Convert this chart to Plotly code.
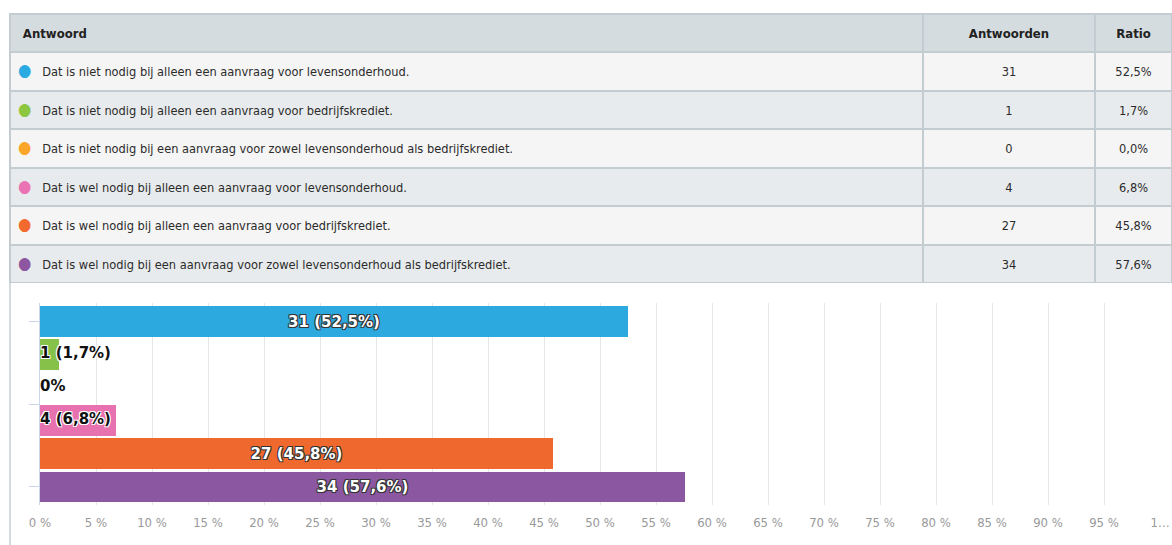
import plotly.graph_objects as go

# ---- data ----
answers = [
    "Dat is niet nodig bij alleen een aanvraag voor levensonderhoud.",
    "Dat is niet nodig bij alleen een aanvraag voor bedrijfskrediet.",
    "Dat is niet nodig bij een aanvraag voor zowel levensonderhoud als bedrijfskrediet.",
    "Dat is wel nodig bij alleen een aanvraag voor levensonderhoud.",
    "Dat is wel nodig bij alleen een aanvraag voor bedrijfskrediet.",
    "Dat is wel nodig bij een aanvraag voor zowel levensonderhoud als bedrijfskrediet.",
]
counts = [31, 1, 0, 4, 27, 34]
ratios = [52.5, 1.7, 0.0, 6.8, 45.8, 57.6]
dot_colors = ["#29abe2", "#8dc63f", "#f9a62b", "#ea74b3", "#f26a2e", "#8e55a1"]
bar_colors = ["#2ca9df", "#86c14a", "#f9a62b", "#e872b0", "#ef692f", "#8b57a0"]
header_labels = ["Antwoord", "Antwoorden", "Ratio"]
tick_values = list(range(0, 101, 5))
tick_labels = [f"{v} %" for v in range(0, 100, 5)] + ["1…"]

W, H = 1172, 545

def fmt_pct(v):
    return f"{v:.1f}%".replace(".", ",")

ratio_txt = [fmt_pct(r) for r in ratios]
bar_txt = [("0%" if c == 0 else f"{c} ({fmt_pct(r)})") for c, r in zip(counts, ratios)]

# tall invisible spacer; the trailing <br> stops the table from word-wrapping the markup
SP = "<span style='font-size:17px'>\u00a0</span>"

def centered(s):
    return f"{SP}{s}{SP}<br>"

col1 = [f"<span style='color:{c};font-size:17px'>●</span>\u00a0\u00a0 {a}" for c, a in zip(dot_colors, answers)]
col2 = [centered(str(c)) for c in counts]
col3 = [centered(t) for t in ratio_txt]
head = [f"{SP}<b>{header_labels[0]}</b><br>", centered(f"<b>{header_labels[1]}</b>"),
        centered(f"<b>{header_labels[2]}</b>")]
row_fill = ["#f5f5f5" if i % 2 == 0 else "#e8ebed" for i in range(len(answers))]

TFONT = "DejaVu Sans Condensed"

fig = go.Figure()

fig.add_trace(go.Table(
    domain=dict(x=[10 / W, 1.0], y=[1 - 283 / H, 1 - 14 / H]),
    columnwidth=[913, 172, 77],
    header=dict(
        values=head,
        fill_color="#d5dcdf",
        line=dict(color="#c3cdd1", width=2),
        align=["left", "center", "center"],
        font=dict(family=TFONT, size=13, color="#222"),
        height=38,
    ),
    cells=dict(
        values=[col1, col2, col3],
        fill_color=[row_fill, row_fill, row_fill],
        line=dict(color="#c3cdd1", width=2),
        align=["left", "center", "center"],
        font=dict(family=TFONT, size=12.7, color="#2b2b2b"),
        height=38.5,
    ),
))

big = [r >= 20 for r in ratios]
fig.add_trace(go.Bar(
    y=list(range(len(answers))),
    x=ratios,
    orientation="h",
    marker=dict(color=bar_colors, line=dict(width=0)),
    width=0.91,
    text=[t if b else "" for t, b in zip(bar_txt, big)],
    textposition="inside",
    insidetextanchor="middle",
    textangle=0,
    textfont=dict(family="DejaVu Sans", size=15, color="white", weight="bold",
                  shadow="-1px -1px 0 #333, 1px -1px 0 #333, -1px 1px 0 #333, 1px 1px 0 #333"),
    hoverinfo="skip",
    showlegend=False,
))

small_idx = [i for i, b in enumerate(big) if not b]
fig.add_trace(go.Scatter(
    y=small_idx,
    x=[0] * len(small_idx),
    mode="text",
    text=[bar_txt[i] for i in small_idx],
    textposition="middle right",
    textfont=dict(family="DejaVu Sans", size=15, color="#111", weight="bold",
                  shadow="-1px -1px 0 #fff, 1px -1px 0 #fff, -1px 1px 0 #fff, 1px 1px 0 #fff"),
    hoverinfo="skip",
    showlegend=False,
    cliponaxis=False,
))

fig.update_layout(
    width=W, height=H,
    margin=dict(l=0, r=0, t=0, b=0, autoexpand=False),
    paper_bgcolor="white",
    plot_bgcolor="white",
    bargap=0,
    showlegend=False,
    xaxis=dict(
        domain=[40 / W, 1160 / W],
        range=[0, 100],
        tickvals=tick_values,
        ticktext=tick_labels,
        showgrid=True, gridcolor="#e6e6e6", gridwidth=1,
        zeroline=False, showline=False, ticks="",
        ticklabelstandoff=8,
        tickfont=dict(family="DejaVu Sans Condensed", size=13, color="#999"),
        automargin=False,
        fixedrange=True,
    ),
    yaxis=dict(
        domain=[1 - 505 / H, 1 - 303 / H],
        range=[5.56, -0.56],
        tickvals=[0, 2.5, 5],
        showticklabels=False,
        ticks="outside", ticklen=10, tickcolor="#ccd6eb",
        showline=True, linecolor="#ccd6eb", linewidth=1,
        showgrid=False, zeroline=False,
        automargin=False,
        fixedrange=True,
    ),
    shapes=[dict(type="line", xref="paper", yref="paper",
                 x0=10 / W, x1=10 / W, y0=0, y1=1 - 283 / H,
                 line=dict(color="#d3dbdf", width=2))],
)

fig.write_html(
    "out.html",
    config={"displayModeBar": False},
    post_script="document.body.style.margin='0';document.body.style.overflow='hidden';",
)
